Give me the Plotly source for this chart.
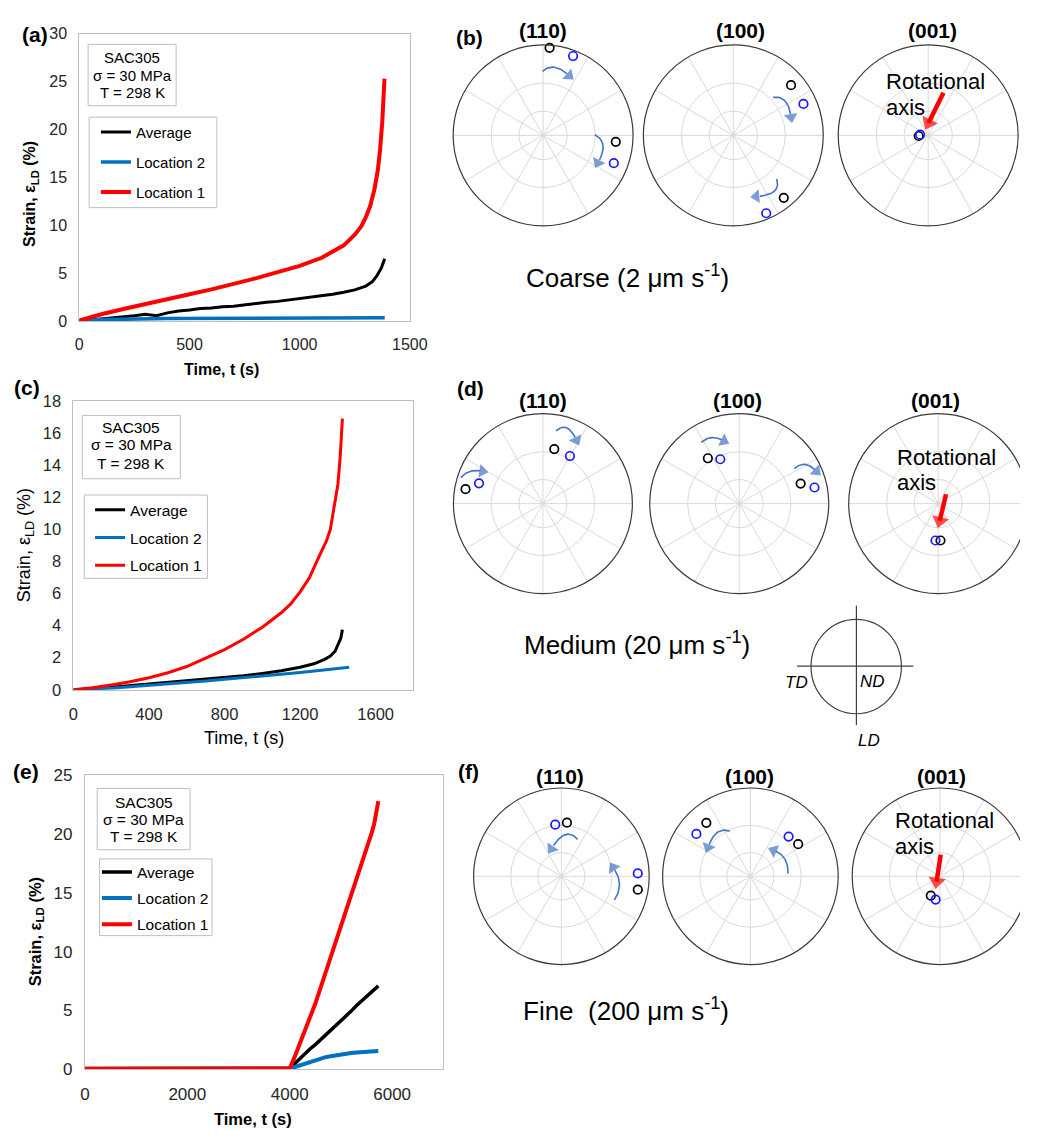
import numpy as np
import plotly.graph_objects as go

W, H = 1038, 1140
FONT = "Arial, 'Liberation Sans', sans-serif"


def px(x):
    return x / W


def py(y):
    return 1 - y / H


# ------------------------------------------------------------------
# Creep curves (strain %, time s)
# ------------------------------------------------------------------
# (a) Coarse
a_t_avg = [0, 50, 100, 150, 200, 250, 300, 350, 400, 450, 500, 550, 600, 650, 700, 750,
           800, 850, 900, 950, 1000, 1050, 1100, 1150, 1200, 1250, 1300, 1330, 1350, 1370, 1386]
a_avg = [0.0, 0.1, 0.25, 0.3, 0.45, 0.55, 0.7, 0.55, 0.85, 1.05, 1.15, 1.3, 1.35, 1.5, 1.55, 1.7,
         1.8, 1.95, 2.05, 2.2, 2.3, 2.45, 2.6, 2.8, 3.0, 3.25, 3.65, 4.1, 4.7, 5.5, 6.5]
a_t_loc2 = [0, 100, 400, 800, 1200, 1386]
a_loc2 = [0.0, 0.15, 0.25, 0.3, 0.33, 0.35]
a_t_loc1 = [0, 50, 100, 200, 300, 400, 500, 600, 700, 800, 900, 1000, 1100, 1150, 1200,
            1250, 1280, 1300, 1320, 1340, 1355, 1365, 1375, 1385]
a_loc1 = [0.05, 0.4, 0.7, 1.25, 1.8, 2.35, 2.8, 3.3, 3.85, 4.45, 5.1, 5.75, 6.6, 7.2, 7.9,
          9.0, 9.9, 10.8, 12.0, 13.8, 15.8, 17.9, 20.8, 25.3]

# (c) Medium
c_t_avg = [0, 100, 200, 300, 400, 500, 600, 700, 800, 900, 1000, 1100, 1200, 1273, 1330,
           1360, 1385, 1402, 1415, 1424]
c_avg = [0.0, 0.05, 0.15, 0.25, 0.35, 0.45, 0.55, 0.65, 0.75, 0.88, 1.02, 1.18, 1.4, 1.62, 1.9,
         2.1, 2.4, 2.8, 3.2, 3.75]
c_t_loc2 = [0, 100, 200, 300, 400, 500, 600, 700, 800, 900, 1000, 1100, 1200, 1300, 1400, 1460]
c_loc2 = [0.0, 0.03, 0.1, 0.19, 0.27, 0.35, 0.45, 0.55, 0.65, 0.75, 0.85, 0.97, 1.08, 1.2, 1.32, 1.41]
c_t_loc1 = [0, 100, 200, 300, 400, 500, 600, 700, 800, 900, 1000, 1100, 1150, 1200, 1250,
            1300, 1340, 1360, 1380, 1400, 1412, 1420, 1424]
c_loc1 = [0.0, 0.12, 0.3, 0.5, 0.75, 1.06, 1.45, 1.95, 2.5, 3.15, 3.9, 4.8, 5.35, 6.1, 7.0,
          8.3, 9.3, 10.0, 11.3, 12.8, 14.5, 15.8, 16.9]

# (e) Fine
e_t = [0, 1000, 2000, 3000, 4000, 4100, 4200, 4300, 4400, 4500, 4600, 4700, 4800, 4900,
       5000, 5100, 5200, 5300, 5400, 5500, 5600, 5730]
e_avg = [0.05, 0.05, 0.05, 0.06, 0.08, 0.5, 0.95, 1.35, 1.75, 2.1, 2.5, 2.9, 3.25, 3.65,
         4.05, 4.5, 4.95, 5.4, 5.8, 6.25, 6.65, 7.1]
e_loc2 = [0.05, 0.05, 0.05, 0.06, 0.08, 0.2, 0.35, 0.5, 0.65, 0.8, 0.92, 1.03, 1.12, 1.2,
          1.27, 1.33, 1.38, 1.43, 1.47, 1.5, 1.53, 1.56]
e_t_loc1 = [0, 1000, 2000, 3000, 4000, 4100, 4200, 4300, 4400, 4500, 4600, 4700, 4800, 4900,
            5000, 5100, 5200, 5300, 5400, 5500, 5600, 5650, 5730]
e_loc1 = [0.05, 0.05, 0.05, 0.06, 0.08, 1.1, 2.2, 3.3, 4.45, 5.6, 6.9, 8.2, 9.5, 10.8,
          12.1, 13.45, 14.75, 16.05, 17.35, 18.7, 20.1, 20.9, 22.8]

series_names = ["Average", "Location 2", "Location 1"]
x_ticks_a = [0, 500, 1000, 1500]
x_ticks_c = [0, 400, 800, 1200, 1600]
x_ticks_e = [0, 2000, 4000, 6000]

# ------------------------------------------------------------------
# Pole figures: normalised stereographic positions (x right, y up)
# ------------------------------------------------------------------
b110_black = [(0.072, 0.967), (0.808, -0.072)]
b110_blue = [(0.333, 0.877), (0.786, -0.308)]
b100_black = [(0.642, 0.555), (0.561, -0.69)]
b100_blue = [(0.78, 0.347), (0.366, -0.861)]
b001_black = [(-0.105, -0.007)]
b001_blue = [(-0.09, 0.007)]

d110_black = [(0.127, 0.606), (-0.865, 0.161)]
d110_blue = [(0.302, 0.529), (-0.714, 0.226)]
d100_black = [(-0.351, 0.504), (0.686, 0.223)]
d100_blue = [(-0.212, 0.493), (0.841, 0.179)]
d001_black = [(0.026, -0.41)]
d001_blue = [(-0.03, -0.41)]

f110_black = [(0.063, 0.607), (0.87, -0.152)]
f110_blue = [(-0.07, 0.585), (0.87, 0.033)]
f100_black = [(-0.502, 0.606), (0.544, 0.364)]
f100_blue = [(-0.615, 0.48), (0.435, 0.45)]
f001_black = [(-0.105, -0.219)]
f001_blue = [(-0.05, -0.264)]

# curved rotation arrows: (start, middle, tip)
b110_arcs = [((-0.007, 0.707), (0.141, 0.75), (0.315, 0.634)),
             ((0.576, 0.007), (0.667, -0.127), (0.587, -0.337))]
b100_arcs = [((0.443, 0.42), (0.585, 0.369), (0.646, 0.164)),
             ((0.484, -0.482), (0.443, -0.628), (0.211, -0.675))]
d110_arcs = [((0.147, 0.81), (0.278, 0.836), (0.388, 0.672)),
             ((-0.918, 0.288), (-0.804, 0.361), (-0.653, 0.354))]
d100_arcs = [((-0.424, 0.682), (-0.294, 0.734), (-0.151, 0.682)),
             ((0.616, 0.39), (0.747, 0.434), (0.882, 0.336))]
f110_arcs = [((0.185, 0.418), (0.03, 0.466), (-0.137, 0.27)),
             ((0.604, -0.267), (0.66, -0.07), (0.567, 0.126))]
f100_arcs = [((-0.234, 0.513), (-0.389, 0.487), (-0.494, 0.29)),
             ((0.427, 0.03), (0.385, 0.208), (0.238, 0.301))]

# red rotational-axis arrows: (tail, tip)
b001_red = ((0.17, 0.47), (-0.03, 0.07))
d001_red = ((0.088, 0.103), (0.0, -0.264))
f001_red = ((0.008, 0.245), (-0.05, -0.134))

pf_labels = ["(110)", "(100)", "(001)"]
row_captions = ["Coarse (2 μm s<sup>-1</sup>)", "Medium (20 μm s<sup>-1</sup>)",
                "Fine  (200 μm s<sup>-1</sup>)"]

# ------------------------------------------------------------------
COL_AVG, COL_L2, COL_L1 = "#000000", "#0070C0", "#FF0000"
ARC_COL = "#4472C4"
GRID_COL = "#d9d9d9"
BOX_COL = "#bfbfbf"

fig = go.Figure()
annotations = []
shapes = []


def ann(text, x, y, size, **kw):
    d = dict(text=text, x=px(x), y=py(y), xref="paper", yref="paper", showarrow=False,
             font=dict(family=FONT, size=size, color=kw.pop("color", "#000000")),
             xanchor=kw.pop("xanchor", "center"), yanchor=kw.pop("yanchor", "middle"))
    d.update(kw)
    annotations.append(d)


def rect(x0, y0, x1, y1):
    shapes.append(dict(type="rect", xref="paper", yref="paper", x0=px(x0), x1=px(x1),
                       y0=py(y1), y1=py(y0), line=dict(color=BOX_COL, width=1),
                       fillcolor="white", layer="above"))


# ---------------- left creep panels ----------------
left_panels = [
    dict(n=1, xd=(76, 414), yd=(25, 317.3), xr=[0, 1500], xt=x_ticks_a, yr=[0, 30], ydt=5,
         tf=16, bold=True, tsz=16, xtitle=(221.7, 366.7), ytitle=(26.7, 188),
         letter="(a)", lpos=(30.5, 26),
         data=[(a_t_avg, a_avg, 3), (a_t_loc2, a_loc2, 3.5), (a_t_loc1, a_loc1, 4)],
         box=(85, 36, 175, 98.3), box_lines=(49.7, 67.7, 85.2), bfs=15,
         leg=(86, 110, 216.7, 202), leg_first=125, leg_gap=7.5, leg_left=93, lfs=15),
    dict(n=2, xd=(70, 417.7), yd=(398.7, 692.3), xr=[0, 1800], xt=x_ticks_c, yr=[0, 18], ydt=2,
         tf=16.5, bold=False, tsz=18, xtitle=(244.3, 741.7), ytitle=(21.7, 545),
         letter="(c)", lpos=(22.5, 385),
         data=[(c_t_avg, c_avg, 3), (c_t_loc2, c_loc2, 3), (c_t_loc1, c_loc1, 3)],
         box=(79, 413.3, 179.3, 477.7), box_lines=(425.7, 443.3, 461.7), bfs=15.5,
         leg=(81, 494.3, 207, 579), leg_first=509, leg_gap=4.5, leg_left=87, lfs=15.5),
    dict(n=3, xd=(81.7, 448.3), yd=(779.3, 1078.3), xr=[0, 7000], xt=x_ticks_e, yr=[0, 25], ydt=5,
         tf=17, bold=True, tsz=16.5, xtitle=(254, 1129), ytitle=(31.7, 938),
         letter="(e)", lpos=(21.7, 775),
         data=[(e_t, e_avg, 3.5), (e_t, e_loc2, 4), (e_t_loc1, e_loc1, 4)],
         box=(94.3, 792.7, 189.3, 855), box_lines=(806.7, 824.3, 841.7), bfs=15.5,
         leg=(96.7, 864.3, 211.7, 942.3), leg_first=877.3, leg_gap=2.9, leg_left=94, lfs=15.5),
]

colors = [COL_AVG, COL_L2, COL_L1]
for p in left_panels:
    n = p["n"]
    xa = "x" if n == 1 else f"x{n}"
    ya = "y" if n == 1 else f"y{n}"
    legname = "legend" if n == 1 else f"legend{n}"
    for (t, s, w), name, col in zip(p["data"], series_names, colors):
        fig.add_trace(go.Scatter(x=t, y=s, mode="lines", name=name, xaxis=xa, yaxis=ya,
                                 line=dict(color=col, width=w), legend=legname,
                                 legendgroup=f"{legname}_{name}", hoverinfo="skip"))
    axkey = "" if n == 1 else str(n)
    fig.update_layout(**{
        f"xaxis{axkey}": dict(domain=[px(p["xd"][0]), px(p["xd"][1])], range=p["xr"],
                              tickvals=p["xt"], anchor=ya, showgrid=False, zeroline=False,
                              showline=True, mirror=True, linecolor=BOX_COL, linewidth=1,
                              ticks="", ticklabelstandoff=9,
                              tickfont=dict(family=FONT, size=p["tf"], color="#262626")),
        f"yaxis{axkey}": dict(domain=[py(p["yd"][1]), py(p["yd"][0])], range=p["yr"],
                              dtick=p["ydt"], anchor=xa, showgrid=False, zeroline=False,
                              showline=True, mirror=True, linecolor=BOX_COL, linewidth=1,
                              ticks="", ticklabelstandoff=8,
                              tickfont=dict(family=FONT, size=p["tf"], color="#262626")),
        legname: dict(x=px(p["leg_left"]), y=py(p["leg_first"] - 16.5), xanchor="left",
                      yanchor="top", bgcolor="rgba(0,0,0,0)", borderwidth=0,
                      tracegroupgap=p["leg_gap"], itemclick=False,
                      font=dict(family=FONT, size=p["lfs"], color="#000000")),
    })
    b = "<b>%s</b>" if p["bold"] else "%s"
    ann(b % "Time, t (s)", *p["xtitle"], p["tsz"])
    ann(b % "Strain, ε<sub>LD</sub> (%)", *p["ytitle"], p["tsz"], textangle=-90)
    ann("<b>%s</b>" % p["letter"], *p["lpos"], 21)
    bx0, by0, bx1, by1 = p["box"]
    rect(bx0, by0, bx1, by1)
    for txt, yy in zip(["SAC305", "σ = 30 MPa", "T = 298 K"], p["box_lines"]):
        ann(txt, (bx0 + bx1) / 2, yy, p["bfs"])
    rect(*p["leg"])

# ---------------- pole figures ----------------
pf_rows = [
    dict(tag="(b)", lpos=(475.3, 28.7), cy=128.5, R=92.0, cxs=[550.3, 744.8, 944.1],
         txs=[550.3, 752.2, 948.7], ty=21.7,
         black=[b110_black, b100_black, b001_black], blue=[b110_blue, b100_blue, b001_blue],
         arcs=[b110_arcs, b100_arcs, []], red=b001_red, rot=(898.8, 73.3, 100.0),
         cap=(530.6, 272)),
    dict(tag="(d)", lpos=(476, 386), cy=503.0, R=91.5, cxs=[550.1, 750.9, 954.3],
         txs=[549.8, 749.4, 951.7], ty=398.0,
         black=[d110_black, d100_black, d001_black], blue=[d110_blue, d100_blue, d001_blue],
         arcs=[d110_arcs, d100_arcs, []], red=d001_red, rot=(910.0, 456.0, 481.7),
         cap=(528.7, 645)),
    dict(tag="(f)", lpos=(473.7, 775.8), cy=882.0, R=89.8, cxs=[569.0, 762.3, 956.2],
         txs=[567.5, 761.6, 957.7], ty=780.8,
         black=[f110_black, f100_black, f001_black], blue=[f110_blue, f100_blue, f001_blue],
         arcs=[f110_arcs, f100_arcs, []], red=f001_red, rot=(908.2, 825.0, 851.7),
         cap=(527.6, 1017.3)),
]


def bezier(s, m, e, t):
    s, m, e = np.array(s), np.array(m), np.array(e)
    c = 2 * m - 0.5 * (s + e)
    t = np.asarray(t)[:, None]
    return (1 - t) ** 2 * s + 2 * (1 - t) * t * c + t ** 2 * e


PAD = 1.06
ring_r = [np.tan(np.radians(15)), np.tan(np.radians(30))]
axis_i = 4
for ri, row in enumerate(pf_rows):
    ann("<b>%s</b>" % row["tag"], *row["lpos"], 21)
    ann(row_captions[ri], row["cap"][0], row["cap"][1], 26, xanchor="left")
    R, cy = row["R"], row["cy"]
    for j in range(3):
        cx = row["cxs"][j]
        xa, ya = f"x{axis_i}", f"y{axis_i}"
        x0 = (cx - PAD * R) / W
        x1 = (cx + PAD * R) / W
        xmax = PAD
        if x1 > 1:
            x1 = 1.0
            xmax = (W - cx) / R
        fig.update_layout(**{
            f"xaxis{axis_i}": dict(domain=[x0, x1], range=[-PAD, xmax], visible=False,
                                   anchor=ya, fixedrange=True),
            f"yaxis{axis_i}": dict(domain=[py(cy + PAD * R), py(cy - PAD * R)],
                                   range=[-PAD, PAD], visible=False, anchor=xa, fixedrange=True),
        })
        # grid: rings (30 and 60 deg) and 12 spokes
        for rr in ring_r:
            shapes.append(dict(type="circle", xref=xa, yref=ya, x0=-rr, x1=rr, y0=-rr, y1=rr,
                               line=dict(color=GRID_COL, width=1), layer="below"))
        for k in range(12):
            ang = np.radians(30 * k)
            shapes.append(dict(type="line", xref=xa, yref=ya, x0=0, y0=0,
                               x1=float(np.cos(ang)), y1=float(np.sin(ang)),
                               line=dict(color=GRID_COL, width=1), layer="below"))
        shapes.append(dict(type="circle", xref=xa, yref=ya, x0=-1, x1=1, y0=-1, y1=1,
                           line=dict(color="#3a3a3a", width=1.2), layer="above"))
        ann("<b>%s</b>" % pf_labels[j], row["txs"][j], row["ty"], 21)

        # rotation arcs (line + triangular head oriented along the curve)
        for (s, m, e) in row["arcs"][j]:
            pts = bezier(s, m, e, np.linspace(0, 0.86, 20))
            fig.add_trace(go.Scatter(x=pts[:, 0], y=pts[:, 1], mode="lines", xaxis=xa, yaxis=ya,
                                     line=dict(color=ARC_COL, width=1.6), showlegend=False,
                                     hoverinfo="skip"))
            hp = bezier(s, m, e, [0.8, 0.93])
            fig.add_trace(go.Scatter(x=hp[:, 0], y=hp[:, 1], mode="markers", xaxis=xa, yaxis=ya,
                                     showlegend=False, hoverinfo="skip",
                                     marker=dict(symbol="triangle-up", size=[0, 12],
                                                 color=ARC_COL, angleref="previous", angle=0,
                                                 line=dict(width=0))))
        # orientation markers
        for pts, col in ((row["black"][j], "#000000"), (row["blue"][j], "#1a1aff")):
            fig.add_trace(go.Scatter(x=[p[0] for p in pts], y=[p[1] for p in pts], mode="markers",
                                     xaxis=xa, yaxis=ya, showlegend=False, hoverinfo="skip",
                                     marker=dict(symbol="circle-open", size=8.5, color=col,
                                                 line=dict(width=1.7, color=col))))
        if j == 2:
            (tx, tyy), (hx, hy) = row["red"]
            vx, vy = hx - tx, hy - tyy
            L = float(np.hypot(vx, vy))
            ux, uy = vx / L, vy / L
            hc = (hx - ux * 0.075, hy - uy * 0.075)
            fig.add_trace(go.Scatter(x=[tx, hc[0]], y=[tyy, hc[1]], mode="lines", xaxis=xa,
                                     yaxis=ya, showlegend=False, hoverinfo="skip",
                                     line=dict(color="#FF0000", width=4.5)))
            fig.add_trace(go.Scatter(x=[tx, hc[0]], y=[tyy, hc[1]], mode="markers", xaxis=xa,
                                     yaxis=ya, showlegend=False, hoverinfo="skip",
                                     marker=dict(symbol="triangle-up", size=[0, 15],
                                                 color="#FF0000", angleref="previous", angle=0,
                                                 line=dict(width=0))))
            rx, ry1, ry2 = row["rot"]
            ann("Rotational", rx, ry1, 22, xanchor="left")
            ann("axis", rx, ry2, 22, xanchor="left")
        axis_i += 1

# ---------------- reference frame inset ----------------
shapes.append(dict(type="circle", xref="paper", yref="paper", x0=px(824.3), x1=px(916.7),
                   y0=py(716.7), y1=py(620.7), line=dict(color="#404040", width=1.2)))
shapes.append(dict(type="line", xref="paper", yref="paper", x0=px(810), x1=px(929),
                   y0=py(668.3), y1=py(668.3), line=dict(color="#404040", width=1.2)))
shapes.append(dict(type="line", xref="paper", yref="paper", x0=px(870.7), x1=px(870.7),
                   y0=py(728.3), y1=py(606.7), line=dict(color="#404040", width=1.2)))
ann("<i>TD</i>", 809.3, 685, 17)
ann("<i>ND</i>", 887.3, 684, 17)
ann("<i>LD</i>", 884, 744, 17)

fig.update_layout(
    width=W, height=H, margin=dict(l=0, r=0, t=0, b=0, pad=0),
    paper_bgcolor="white", plot_bgcolor="rgba(0,0,0,0)",
    font=dict(family=FONT, color="#000000"),
    annotations=annotations, shapes=shapes, hovermode=False,
)

PIN = ("document.documentElement.style.overflow='hidden';"
       "document.body.style.margin='0px';document.body.style.overflow='hidden';"
       "var gd=document.getElementsByClassName('plotly-graph-div')[0];"
       "gd.style.position='fixed';gd.style.left='0px';gd.style.top='0px';")

fig.write_html("out.html", config={"displayModeBar": False}, post_script=PIN)
